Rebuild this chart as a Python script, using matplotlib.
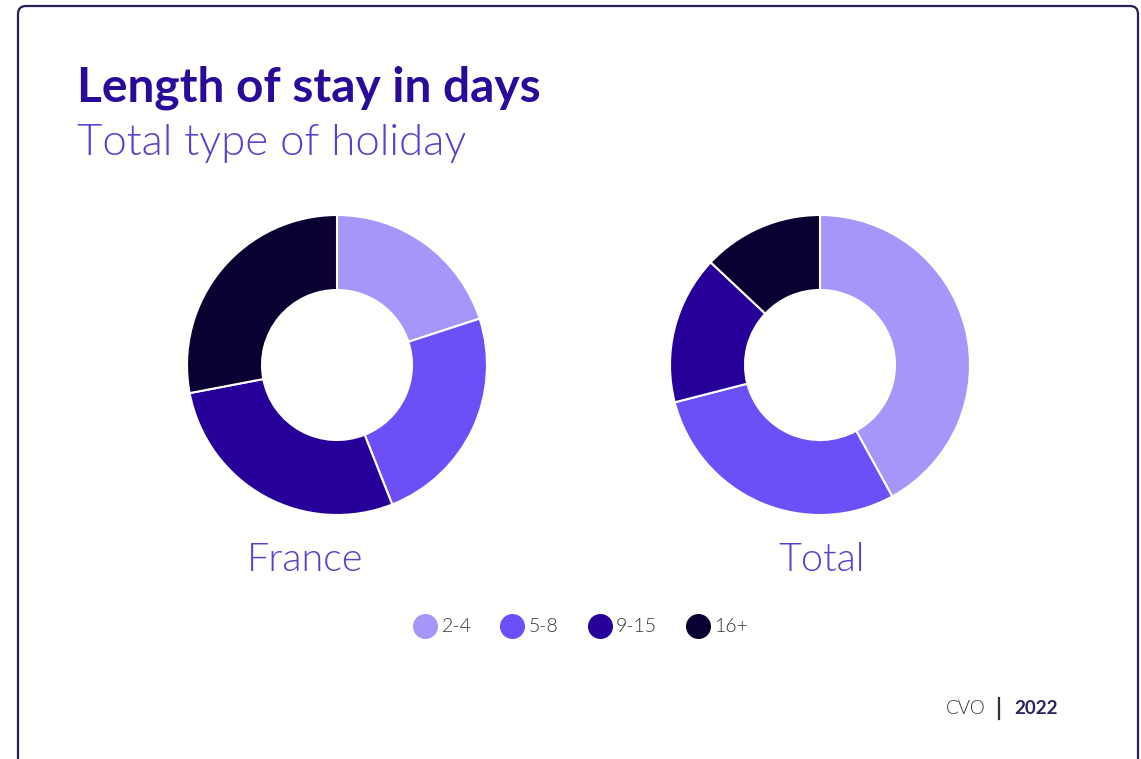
import matplotlib
matplotlib.use("Agg")
import matplotlib.pyplot as plt
from matplotlib.lines import Line2D
from matplotlib.patches import FancyBboxPatch

categories = ["2-4", "5-8", "9-15", "16+"]
france = [20, 24, 28, 28]
total = [42, 29, 16, 13]
panel_titles = ["France", "Total"]
colors = ["#a597fa", "#6d4ff7", "#27009a", "#0b0032"]

W, H = 1141, 759
fig = plt.figure(figsize=(W / 100, H / 100), dpi=100)
fig.patch.set_facecolor("white")

# background frame
bg = fig.add_axes([0, 0, 1, 1])
bg.set_xlim(0, W)
bg.set_ylim(H, 0)
bg.axis("off")
bg.add_patch(FancyBboxPatch((18, 6), 1120, 780, boxstyle="round,pad=0,rounding_size=8",
                            facecolor="#fffffd", edgecolor="#2b1e5a", linewidth=1.6))

fam = ["Lato", "DejaVu Sans"]
bg.text(77, 102, "Length of stay in days", fontsize=34.5, fontweight="bold",
        color="#2a0a9a", family=fam, va="baseline", ha="left")
bg.text(77, 155, "Total type of holiday", fontsize=31.5, fontweight=300,
        color="#5b3fcf", family=fam, va="baseline", ha="left")

centers = [(337, 365), (820, 365)]
label_pos = [(305, 560), (822, 560)]
R = 150
for data, (cx, cy), name, (lx, ly) in zip([france, total], centers, panel_titles, label_pos):
    ax = fig.add_axes([(cx - R) / W, (H - cy - R) / H, 2 * R / W, 2 * R / H])
    ax.pie(data, colors=colors, startangle=90, counterclock=False, radius=1,
           wedgeprops=dict(width=0.5, edgecolor="white", linewidth=1.5))
    ax.set_xlim(-1.0, 1.0)
    ax.set_ylim(-1.0, 1.0)
    ax.set_aspect("auto")
    ax.axis("off")
    bg.text(lx, ly, name, fontsize=28.5, fontweight=300, color="#5b3fcf",
            family=fam, ha="center", va="center")

handles = [Line2D([], [], marker="o", linestyle="none", markersize=17,
                  markerfacecolor=c, markeredgecolor=c) for c in colors]
leg = fig.legend(handles, categories, loc="center", bbox_to_anchor=(577 / W, 1 - 627 / H),
                 ncol=4, frameon=False, handletextpad=-0.15, columnspacing=1.1,
                 prop={"family": fam, "size": 14, "weight": 300})
for t in leg.get_texts():
    t.set_color("#333333")

bg.text(986, 708, "CVO", fontsize=13.5, fontweight=300, color="#333333", family=fam,
        ha="right", va="center")
bg.plot([999, 999], [698, 719], color="#333333", linewidth=1.6)
bg.text(1058, 708, "2022", fontsize=13.5, fontweight="bold", color="#2b2260", family=fam,
        ha="right", va="center")

fig.savefig("out.png", dpi=100, facecolor="white")
